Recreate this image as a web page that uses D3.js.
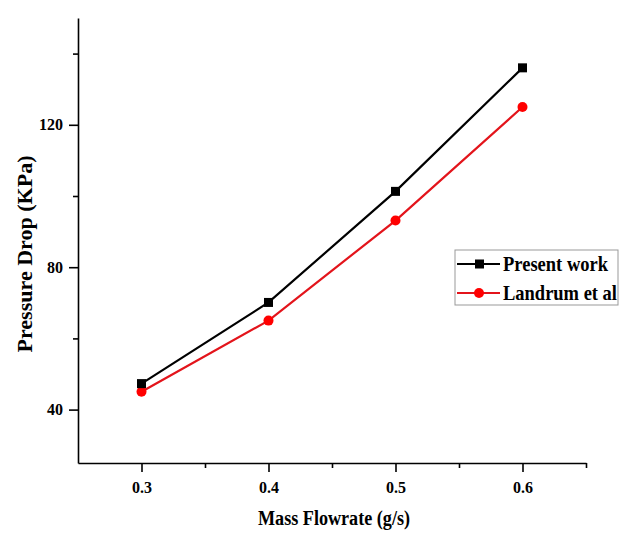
<!DOCTYPE html>
<html>
<head>
<meta charset="utf-8">
<script src="https://cdn.jsdelivr.net/npm/d3@7"></script>
<style>
  body { margin: 0; background: #fff; }
  svg text { font-family: "Liberation Serif", "Times New Roman", serif; font-weight: bold; }
</style>
</head>
<body>
<div id="chart"></div>
<script>
// values
var flowrate = [0.3, 0.4, 0.5, 0.6];
var presentWork = [47.3, 70.1, 101.3, 136];
var landrum = [45, 65, 93.1, 125];
var seriesNames = ["Present work", "Landrum et al"];
var yMajorTicks = [40, 80, 120];
var yMinorTicks = [60, 100, 140];
var xMajorTicks = [0.3, 0.4, 0.5, 0.6];
var xMinorTicks = [0.35, 0.45, 0.55, 0.65];

var W = 640, H = 536;
var margin = {top: 18, right: 54, bottom: 73, left: 78};
var width = W - margin.left - margin.right;
var height = H - margin.top - margin.bottom;

var svg = d3.select("#chart").append("svg")
    .attr("width", W)
    .attr("height", H);

var g = svg.append("g")
    .attr("transform", "translate(" + margin.left + "," + margin.top + ")");

var x = d3.scaleLinear().domain([0.25, 0.65]).range([0, width]);
var y = d3.scaleLinear().domain([25, 150]).range([height, 0]);

// axes: major + minor ticks
var xAxis = g.append("g").attr("transform", "translate(0," + height + ")")
    .call(d3.axisBottom(x).tickValues(xMajorTicks).tickSize(9).tickSizeOuter(0).tickPadding(10)
        .tickFormat(d3.format(".1f")));
g.append("g").attr("transform", "translate(0," + height + ")")
    .call(d3.axisBottom(x).tickValues(xMinorTicks).tickSize(5).tickFormat(""))
    .select(".domain").remove();

var yAxis = g.append("g")
    .call(d3.axisLeft(y).tickValues(yMajorTicks).tickSize(9).tickSizeOuter(0).tickPadding(6));
g.append("g")
    .call(d3.axisLeft(y).tickValues(yMinorTicks).tickSize(5).tickFormat(""))
    .select(".domain").remove();

g.selectAll(".domain, .tick line").attr("stroke", "#000").attr("stroke-width", 1.6);
xAxis.selectAll("text").style("font-size", "16px").attr("fill", "#000");
yAxis.selectAll("text").style("font-size", "16px").attr("fill", "#000");

// axis titles
svg.append("text")
    .attr("x", margin.left + x(0.45) + 2)
    .attr("y", 525)
    .attr("text-anchor", "middle")
    .attr("textLength", 152)
    .attr("lengthAdjust", "spacingAndGlyphs")
    .style("font-size", "20px")
    .text("Mass Flowrate (g/s)");

svg.append("text")
    .attr("transform", "translate(32,254) rotate(-90)")
    .attr("text-anchor", "middle")
    .attr("textLength", 197)
    .attr("lengthAdjust", "spacingAndGlyphs")
    .style("font-size", "20px")
    .text("Pressure Drop (KPa)");

var series = [
  {name: seriesNames[0], values: presentWork, color: "#000000", marker: "square"},
  {name: seriesNames[1], values: landrum, color: "#e3141b", marker: "circle"}
];

var line = d3.line()
    .x(function(d, i) { return x(flowrate[i]); })
    .y(function(d) { return y(d); });

// draw red first so black sits on top like in the original
series.slice().reverse().forEach(function(s) {
  g.append("path")
      .datum(s.values)
      .attr("fill", "none")
      .attr("stroke", s.color)
      .attr("stroke-width", 2.2)
      .attr("d", line);

  if (s.marker === "square") {
    g.selectAll(null).data(s.values).enter().append("rect")
        .attr("x", function(d, i) { return x(flowrate[i]) - 4.5; })
        .attr("y", function(d) { return y(d) - 4.5; })
        .attr("width", 9).attr("height", 9)
        .attr("fill", s.color);
  } else {
    g.selectAll(null).data(s.values).enter().append("circle")
        .attr("cx", function(d, i) { return x(flowrate[i]); })
        .attr("cy", function(d) { return y(d); })
        .attr("r", 5)
        .attr("fill", "#ff0000");
  }
});

// legend
var legend = svg.append("g").attr("transform", "translate(455,250)");
legend.append("rect")
    .attr("width", 163).attr("height", 55)
    .attr("fill", "#fff")
    .attr("stroke", "#999").attr("stroke-width", 1);

var legendTextLen = [105, 114];
series.forEach(function(s, i) {
  var row = legend.append("g").attr("transform", "translate(0," + (14 + i * 29) + ")");
  row.append("line")
      .attr("x1", 2).attr("x2", 45)
      .attr("stroke", s.color).attr("stroke-width", 2.2);
  if (s.marker === "square") {
    row.append("rect").attr("x", 20).attr("y", -4.5).attr("width", 9).attr("height", 9).attr("fill", s.color);
  } else {
    row.append("circle").attr("cx", 24).attr("r", 5).attr("fill", "#ff0000");
  }
  row.append("text")
      .attr("x", 48).attr("y", 7)
      .attr("textLength", legendTextLen[i])
      .attr("lengthAdjust", "spacingAndGlyphs")
      .style("font-size", "21px")
      .text(s.name);
});
</script>
</body>
</html>
